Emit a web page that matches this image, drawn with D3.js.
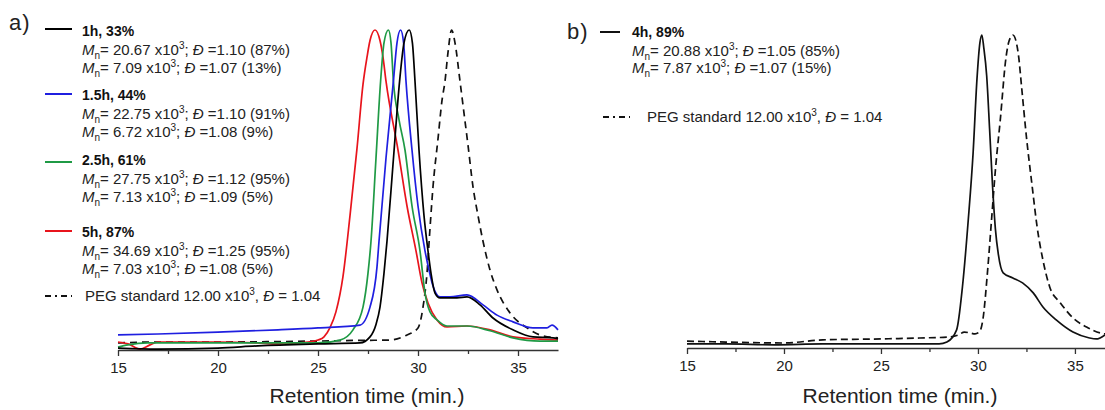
<!DOCTYPE html>
<html><head><meta charset="utf-8">
<script src="https://cdn.jsdelivr.net/npm/d3@7/dist/d3.min.js"></script>
<style>body{margin:0;background:#fff}svg{display:block;font-family:"Liberation Sans",Arial,sans-serif}</style>
</head><body><svg id="c" width="1105" height="410"></svg>
<script>
// ---------- data (retention time in min, normalised RI intensity) ----------
const ticksMajor = [15, 20, 25, 30, 35];
const ticksMinor = [17.5, 22.5, 27.5, 32.5];
const axisTitle = "Retention time (min.)";

const curve1h = [[15,0.006],[17,0.003],[20,0.006],[22,0.013],[25,0.019],[27.1,0.022],[27.6,0.041],[27.9,0.08],[28.1,0.134],[28.3,0.24],[28.45,0.34],[28.75,0.58],[29.08,0.84],[29.3,0.96],[29.56,1.0],[29.72,0.96],[29.85,0.84],[30.05,0.625],[30.3,0.42],[30.5,0.31],[30.65,0.24],[30.85,0.178],[31.1,0.163],[31.95,0.163],[32.45,0.166],[33.1,0.141],[33.75,0.1],[34.75,0.063],[35.75,0.041],[36.75,0.038],[37,0.035]];
const curve15h = [[15,0.047],[17,0.05],[20,0.056],[23,0.063],[25,0.069],[27.1,0.078],[27.6,0.134],[27.95,0.26],[28.05,0.34],[28.4,0.6],[28.77,0.84],[28.95,0.96],[29.13,1.0],[29.28,0.96],[29.4,0.84],[29.7,0.625],[30.0,0.45],[30.35,0.31],[30.55,0.25],[30.75,0.2],[31.1,0.166],[31.6,0.166],[32.45,0.172],[33.25,0.141],[33.95,0.109],[34.75,0.088],[35.75,0.069],[36.45,0.069],[36.7,0.078],[37,0.063]];
const curve25h = [[15,0.009],[15.5,0.016],[16.5,0.022],[20,0.022],[25,0.022],[26.1,0.031],[26.75,0.063],[27.25,0.134],[27.5,0.24],[27.65,0.34],[27.9,0.6],[28.13,0.84],[28.3,0.96],[28.52,1.0],[28.65,0.96],[28.77,0.84],[29.05,0.72],[29.35,0.625],[29.7,0.45],[30.1,0.31],[30.35,0.178],[30.6,0.119],[30.95,0.094],[31.45,0.075],[32.45,0.075],[33.6,0.06],[34.75,0.038],[36.1,0.028],[37,0.028]];
const curve5h = [[15,0.025],[15.5,0.019],[16.1,0.003],[16.6,0.016],[17,0.025],[18.5,0.025],[20,0.025],[22,0.022],[23,0.019],[24.5,0.025],[25,0.031],[25.3,0.041],[25.6,0.07],[25.9,0.12],[26.25,0.23],[26.6,0.42],[26.95,0.63],[27.25,0.83],[27.45,0.915],[27.6,0.967],[27.85,1.0],[28.1,0.967],[28.25,0.915],[28.4,0.84],[29.0,0.625],[29.45,0.45],[29.9,0.31],[30.2,0.21],[30.5,0.147],[30.95,0.094],[31.45,0.072],[32.45,0.075],[33.6,0.063],[34.75,0.041],[36.1,0.034],[37,0.031]];
const curvePEGa = [[15,0.022],[17,0.025],[20,0.025],[25,0.028],[27,0.03],[28.6,0.031],[29.45,0.047],[30.0,0.069],[30.25,0.134],[30.45,0.24],[30.6,0.38],[30.75,0.51],[31.0,0.66],[31.2,0.78],[31.35,0.84],[31.5,0.93],[31.68,1.0],[31.85,0.96],[32.1,0.84],[32.3,0.74],[32.5,0.64],[32.75,0.51],[33.0,0.42],[33.25,0.34],[33.6,0.25],[33.95,0.188],[34.6,0.116],[35.45,0.069],[36.1,0.047],[37,0.038]];

const curve4h = [[15,0.013],[17,0.013],[19.5,0.010],[22,0.013],[25,0.013],[28,0.013],[28.4,0.019],[28.9,0.058],[29.2,0.195],[29.5,0.409],[29.75,0.623],[29.95,0.86],[30.1,0.975],[30.2,1.0],[30.3,0.96],[30.45,0.87],[30.6,0.70],[30.75,0.52],[30.9,0.38],[31.05,0.3],[31.3,0.24],[31.8,0.224],[32.3,0.208],[32.85,0.176],[33.35,0.131],[34.05,0.089],[34.9,0.051],[35.75,0.032],[36.1,0.029],[36.55,0.042]];
const curvePEGb = [[15,0.022],[17,0.019],[20,0.016],[22,0.026],[25,0.029],[27,0.032],[28.5,0.035],[29.0,0.042],[29.3,0.051],[29.6,0.048],[29.85,0.045],[30.1,0.054],[30.25,0.089],[30.5,0.249],[30.7,0.409],[30.9,0.569],[31.15,0.728],[31.45,0.93],[31.6,0.98],[31.8,1.0],[32.0,0.97],[32.1,0.93],[32.25,0.834],[32.5,0.674],[32.8,0.514],[33.05,0.387],[33.35,0.281],[33.7,0.195],[34.25,0.144],[34.9,0.096],[35.6,0.067],[36.3,0.048],[36.55,0.045]];

// legend texts
const labelsA = ["1h, 33%", "1.5h, 44%", "2.5h, 61%", "5h, 87%"];
const colorsA = ["#000000", "#1f1fe0", "#1f9a45", "#e8141c"];
const mnHighA = ["20.67", "22.75", "27.75", "34.69"];
const dHighA = ["1.10", "1.10", "1.12", "1.25"];
const pctHighA = ["87%", "91%", "95%", "95%"];
const mnLowA = ["7.09", "6.72", "7.13", "7.03"];
const dLowA = ["1.07", "1.08", "1.09", "1.08"];
const pctLowA = ["13%", "9%", "5%", "5%"];
const labelB = "4h, 89%";
const mnB = ["20.88", "7.87"];
const dB = ["1.05", "1.07"];
const pctB = ["85%", "15%"];
const pegLabel = ["PEG standard 12.00 x10", "3", ", ", "Đ", " = 1.04"];

// ---------- drawing ----------
const svg = d3.select("#c");
const FONT = '"Liberation Sans",Arial,sans-serif';

function panel(cfg) {
  const x = d3.scaleLinear().domain(cfg.xd).range(cfg.xr);
  const y = d3.scaleLinear().domain([0, 1]).range(cfg.yr);
  const g = svg.append("g");
  const ax = g.append("g").attr("transform", `translate(0,${cfg.yr[0]})`)
    .call(d3.axisBottom(x).tickValues(ticksMajor).tickFormat(d3.format("d")).tickSize(6).tickSizeOuter(0).tickPadding(6));
  ax.select(".domain").attr("stroke", "#333").attr("stroke-width", 1.5);
  ax.selectAll(".tick line").attr("stroke", "#333").attr("stroke-width", 1.3);
  ax.selectAll(".tick text").attr("font-size", 15).attr("font-family", FONT).attr("fill", "#222");
  const mn = g.append("g").attr("transform", `translate(0,${cfg.yr[0]})`)
    .call(d3.axisBottom(x).tickValues(ticksMinor).tickFormat("").tickSize(4).tickSizeOuter(0));
  mn.select(".domain").remove();
  mn.selectAll(".tick line").attr("stroke", "#333").attr("stroke-width", 1.3);
  g.append("text").attr("x", cfg.titleX).attr("y", 403).attr("text-anchor", "middle")
    .attr("font-size", 21).attr("font-family", FONT).attr("fill", "#222").text(axisTitle);
  const line = d3.line().x(d => x(d[0])).y(d => y(d[1])).curve(d3.curveMonotoneX);
  cfg.series.forEach(s => {
    g.append("path").datum(s.data).attr("d", line).attr("fill", "none")
      .attr("stroke", s.color).attr("stroke-width", 1.7)
      .attr("stroke-dasharray", s.dash || null);
  });
}

panel({
  xd: [15, 37], xr: [118, 558], yr: [350, 30], titleX: 367,
  series: [
    {data: curvePEGa, color: "#111", dash: "7,5"},
    {data: curve5h, color: colorsA[3]},
    {data: curve25h, color: colorsA[2]},
    {data: curve15h, color: colorsA[1]},
    {data: curve1h, color: colorsA[0]}
  ]
});
panel({
  xd: [15, 36.55], xr: [687, 1105], yr: [348, 35], titleX: 900,
  series: [
    {data: curvePEGb, color: "#111", dash: "7,4"},
    {data: curve4h, color: "#111"}
  ]
});

function mnLine(x, yb, mnv, dv, pct) {
  const t = svg.append("text").attr("x", x).attr("y", yb).attr("font-size", 15)
    .attr("font-family", FONT).attr("fill", "#222");
  t.append("tspan").attr("font-style", "italic").text("M");
  t.append("tspan").attr("font-size", 10).attr("dy", 4).text("n");
  t.append("tspan").attr("dy", -4).text("= " + mnv + " x10");
  t.append("tspan").attr("font-size", 10).attr("dy", -6).text("3");
  t.append("tspan").attr("dy", 6).text("; ");
  t.append("tspan").attr("font-style", "italic").text("Đ");
  t.append("tspan").text(" =" + dv + " (" + pct + ")");
}
function pegText(x, yb) {
  const t = svg.append("text").attr("x", x).attr("y", yb).attr("font-size", 15)
    .attr("font-family", FONT).attr("fill", "#222");
  t.append("tspan").text(pegLabel[0]);
  t.append("tspan").attr("font-size", 10).attr("dy", -6).text(pegLabel[1]);
  t.append("tspan").attr("dy", 6).text(pegLabel[2]);
  t.append("tspan").attr("font-style", "italic").text(pegLabel[3]);
  t.append("tspan").text(pegLabel[4]);
}
function legendSwatch(x1, x2, y, color, dash) {
  svg.append("line").attr("x1", x1).attr("x2", x2).attr("y1", y).attr("y2", y)
    .attr("stroke", color).attr("stroke-width", 2).attr("stroke-dasharray", dash || null);
}

// panel labels
svg.append("text").attr("x", 9).attr("y", 30).attr("font-size", 22).attr("letter-spacing", 1).attr("font-family", FONT).attr("fill", "#222").text("a)");
svg.append("text").attr("x", 567).attr("y", 39).attr("font-size", 22).attr("letter-spacing", 1).attr("font-family", FONT).attr("fill", "#222").text("b)");

// left legend
const headY = [36, 100, 165, 237];
const swY = [29, 94, 162, 231];
labelsA.forEach((lab, i) => {
  legendSwatch(45, 72, swY[i], colorsA[i]);
  svg.append("text").attr("x", 82).attr("y", headY[i]).attr("font-size", 14).attr("font-weight", "bold")
    .attr("font-family", FONT).attr("fill", "#111").text(lab);
  mnLine(82, headY[i] + 19, mnHighA[i], dHighA[i], pctHighA[i]);
  mnLine(82, headY[i] + 37, mnLowA[i], dLowA[i], pctLowA[i]);
});
legendSwatch(45, 72, 296, "#111", "6,4,2,4");
pegText(85, 301);

// right legend
legendSwatch(600, 620, 32, "#111");
svg.append("text").attr("x", 632).attr("y", 37).attr("font-size", 14).attr("font-weight", "bold")
  .attr("font-family", FONT).attr("fill", "#111").text(labelB);
mnLine(632, 56, mnB[0], dB[0], pctB[0]);
mnLine(632, 73, mnB[1], dB[1], pctB[1]);
legendSwatch(603, 630, 117, "#111", "6,4,2,4");
pegText(647, 122);
</script></body></html>
